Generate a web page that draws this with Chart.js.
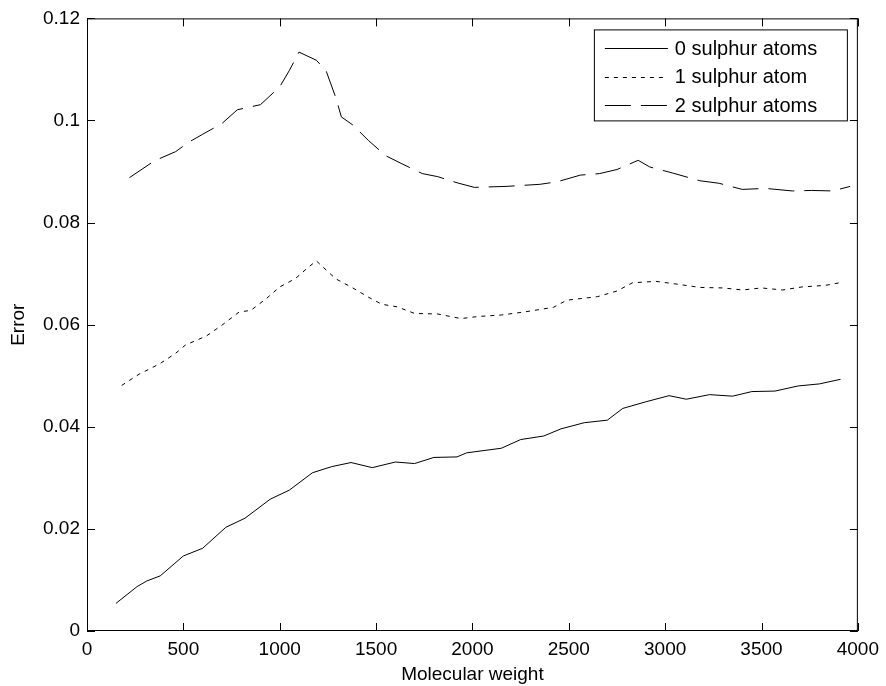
<!DOCTYPE html>
<html>
<head>
<meta charset="utf-8">
<script src="https://cdn.jsdelivr.net/npm/chart.js@4"></script>
<style>
  body { margin: 0; background: #fff; }
</style>
</head>
<body>
<canvas id="chart" width="886" height="686"></canvas>
<script>
// values
const mw0 = [150, 260, 310, 380, 500, 600, 720, 820, 950, 1050, 1170, 1270, 1370, 1480, 1600, 1700, 1800, 1920, 1970, 2150, 2250, 2370, 2460, 2580, 2700, 2780, 2900, 3020, 3110, 3230, 3350, 3450, 3570, 3690, 3800, 3910];
const err0 = [0.0054, 0.0087, 0.0098, 0.0108, 0.0147, 0.0162, 0.0203, 0.0221, 0.0258, 0.0276, 0.0310, 0.0322, 0.0330, 0.0320, 0.0331, 0.0328, 0.0340, 0.0341, 0.0349, 0.0358, 0.0375, 0.0382, 0.0396, 0.0408, 0.0413, 0.0436, 0.0449, 0.0461, 0.0454, 0.0463, 0.0460, 0.0469, 0.0470, 0.0480, 0.0484, 0.0493];

const mw1 = [180, 270, 380, 460, 510, 620, 700, 790, 850, 930, 1000, 1080, 1150, 1190, 1290, 1370, 1460, 1530, 1610, 1700, 1820, 1940, 2030, 2150, 2270, 2420, 2490, 2650, 2750, 2830, 2950, 3070, 3180, 3300, 3400, 3500, 3610, 3710, 3830, 3920];
const err1 = [0.0481, 0.0503, 0.0524, 0.0544, 0.0560, 0.0578, 0.0599, 0.0625, 0.0628, 0.0651, 0.0674, 0.0690, 0.0713, 0.0725, 0.0690, 0.0674, 0.0654, 0.0640, 0.0635, 0.0622, 0.0621, 0.0612, 0.0616, 0.0619, 0.0625, 0.0634, 0.0648, 0.0655, 0.0666, 0.0682, 0.0685, 0.0679, 0.0673, 0.0672, 0.0668, 0.0672, 0.0668, 0.0674, 0.0677, 0.0683];

const mw2 = [220, 350, 460, 530, 600, 700, 780, 900, 1000, 1050, 1100, 1190, 1240, 1290, 1320, 1380, 1460, 1550, 1630, 1740, 1820, 1920, 2010, 2180, 2350, 2440, 2560, 2660, 2750, 2860, 2920, 3040, 3180, 3280, 3400, 3520, 3660, 3760, 3870, 3960];
const err2 = [0.0888, 0.0921, 0.0939, 0.0958, 0.0973, 0.0994, 0.1021, 0.1031, 0.1066, 0.1098, 0.1134, 0.1118, 0.1098, 0.1046, 0.1007, 0.0991, 0.0961, 0.0931, 0.0916, 0.0896, 0.0890, 0.0878, 0.0869, 0.0871, 0.0875, 0.0880, 0.0893, 0.0896, 0.0904, 0.0922, 0.0909, 0.0897, 0.0882, 0.0877, 0.0865, 0.0867, 0.0862, 0.0863, 0.0862, 0.0871];

const labels = ['0 sulphur atoms', '1 sulphur atom', '2 sulphur atoms'];

const pts = (xs, ys) => xs.map((x, i) => ({ x: x, y: ys[i] }));
const FONT = 'Arial, "Liberation Sans", sans-serif';

// MATLAB style box with inward ticks on all sides, plus the legend box
const boxPlugin = {
    id: 'box',
    afterDraw(chart) {
        const ctx = chart.ctx;
        const a = chart.chartArea;
        const xs = chart.scales.x, ys = chart.scales.y;
        const len = 8;
        ctx.save();
        ctx.strokeStyle = '#000';
        ctx.lineWidth = 1;
        ctx.strokeRect(a.left + 0.5, a.top + 0.5, a.right - a.left - 1, a.bottom - a.top - 1);
        ctx.beginPath();
        xs.ticks.forEach(t => {
            const px = Math.round(xs.getPixelForValue(t.value)) + 0.5;
            ctx.moveTo(px, a.bottom); ctx.lineTo(px, a.bottom - len);
            ctx.moveTo(px, a.top); ctx.lineTo(px, a.top + len);
        });
        ys.ticks.forEach(t => {
            const py = Math.round(ys.getPixelForValue(t.value)) + 0.5;
            ctx.moveTo(a.left, py); ctx.lineTo(a.left + len, py);
            ctx.moveTo(a.right, py); ctx.lineTo(a.right - len, py);
        });
        ctx.stroke();

        // legend
        const lx = a.right - 264, ly = a.top + 11, lw = 253, lh = 91;
        ctx.fillStyle = '#fff';
        ctx.fillRect(lx, ly, lw, lh);
        ctx.strokeRect(lx + 0.5, ly + 0.5, lw, lh);
        ctx.font = '20px ' + FONT;
        ctx.textBaseline = 'middle';
        chart.data.datasets.forEach((ds, i) => {
            const y = ly + 19 + i * 28.5;
            ctx.beginPath();
            ctx.setLineDash(ds.borderDash || []);
            ctx.moveTo(lx + 11, Math.round(y) + 0.5);
            ctx.lineTo(lx + 74, Math.round(y) + 0.5);
            ctx.stroke();
            ctx.setLineDash([]);
            ctx.fillStyle = '#000';
            ctx.fillText(ds.label, lx + 81, y + 1);
        });
        ctx.restore();
    }
};

new Chart(document.getElementById('chart'), {
    type: 'line',
    data: {
        datasets: [
            { label: labels[0], data: pts(mw0, err0), borderDash: [] },
            { label: labels[1], data: pts(mw1, err1), borderDash: [4, 5] },
            { label: labels[2], data: pts(mw2, err2), borderDash: [26, 10] }
        ].map(ds => Object.assign(ds, {
            borderColor: '#000',
            borderWidth: 1,
            pointRadius: 0,
            tension: 0,
            fill: false
        }))
    },
    plugins: [boxPlugin],
    options: {
        responsive: false,
        animation: false,
        devicePixelRatio: 1,
        layout: { padding: { top: 18, right: 23, left: 0, bottom: 0 } },
        plugins: {
            legend: { display: false },
            tooltip: { enabled: false }
        },
        scales: {
            x: {
                type: 'linear',
                min: 0,
                max: 4000,
                afterFit: s => { s.height = 55; },
                grid: { display: false, drawTicks: false },
                border: { display: false },
                ticks: {
                    stepSize: 500,
                    padding: 7,
                    maxRotation: 0,
                    color: '#000',
                    font: { family: FONT, size: 19 },
                    callback: v => String(v)
                },
                title: {
                    display: true,
                    text: 'Molecular weight',
                    color: '#000',
                    font: { family: FONT, size: 19 },
                    padding: { top: 0, bottom: 0 }
                }
            },
            y: {
                min: 0,
                max: 0.12,
                afterFit: s => { s.width = 87; },
                grid: { display: false, drawTicks: false },
                border: { display: false },
                ticks: {
                    stepSize: 0.02,
                    padding: 7,
                    color: '#000',
                    font: { family: FONT, size: 19 },
                    callback: v => String(parseFloat(v.toFixed(2)))
                },
                title: {
                    display: true,
                    text: 'Error',
                    color: '#000',
                    font: { family: FONT, size: 19 },
                    padding: { top: 7, bottom: 0 }
                }
            }
        }
    }
});
</script>
</body>
</html>
